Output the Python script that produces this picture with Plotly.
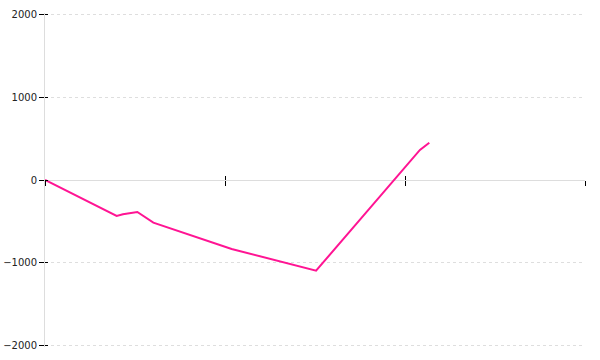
import plotly.graph_objects as go

x_vals = [0.0, 0.398, 0.433, 0.513, 0.602, 1.037, 1.506, 2.083, 2.135]
y_vals = [0, -436, -416, -388, -517, -836, -1099, 364, 452]
y_ticks = [-2000, -1000, 0, 1000, 2000]
x_ticks = [0, 1, 2, 3]

fig = go.Figure()
fig.add_trace(go.Scatter(x=x_vals, y=y_vals, mode="lines",
                         line=dict(color="#ff1493", width=2), showlegend=False,
                         hoverinfo="skip"))
# helper invisible trace for secondary axes (inside tick marks)
fig.add_trace(go.Scatter(x=[x_ticks[0]], y=[y_ticks[0]], xaxis="x2", yaxis="y2",
                         mode="markers", marker=dict(opacity=0), showlegend=False,
                         hoverinfo="skip"))

font = dict(family="DejaVu Sans, sans-serif", size=10, color="#222")
y_range = [-2024, 2024]

fig.update_layout(
    width=600, height=360,
    margin=dict(l=45, r=15, t=13, b=13, autoexpand=False),
    paper_bgcolor="white", plot_bgcolor="white",
    font=font,
    xaxis=dict(range=[0, 3], tickvals=x_ticks, showticklabels=False,
               ticks="outside", ticklen=5, tickcolor="#000", tickwidth=1,
               showgrid=False, zeroline=False, showline=False,
               anchor="free", position=0.5, automargin=False),
    yaxis=dict(range=y_range, tickvals=y_ticks, ticks="outside", ticklen=5,
               tickcolor="#000", tickwidth=1, showgrid=True, gridcolor="#dedede",
               griddash="dot", gridwidth=1, zeroline=True, zerolinecolor="#dddddd",
               zerolinewidth=1, showline=True,
               linecolor="#dddddd", linewidth=1, tickfont=font, automargin=False),
    xaxis2=dict(range=[0, 3], tickvals=x_ticks, showticklabels=False, overlaying="x",
                ticks="inside", ticklen=4, tickcolor="#000", tickwidth=1,
                showgrid=False, zeroline=False, showline=False,
                anchor="free", position=0.5, automargin=False),
    yaxis2=dict(range=y_range, tickvals=y_ticks, showticklabels=False,
                overlaying="y", ticks="inside", ticklen=3, tickcolor="#000",
                tickwidth=1, showgrid=False, zeroline=False, showline=False,
                anchor="x2", side="left", automargin=False),
)

fig.write_html("out.html")
